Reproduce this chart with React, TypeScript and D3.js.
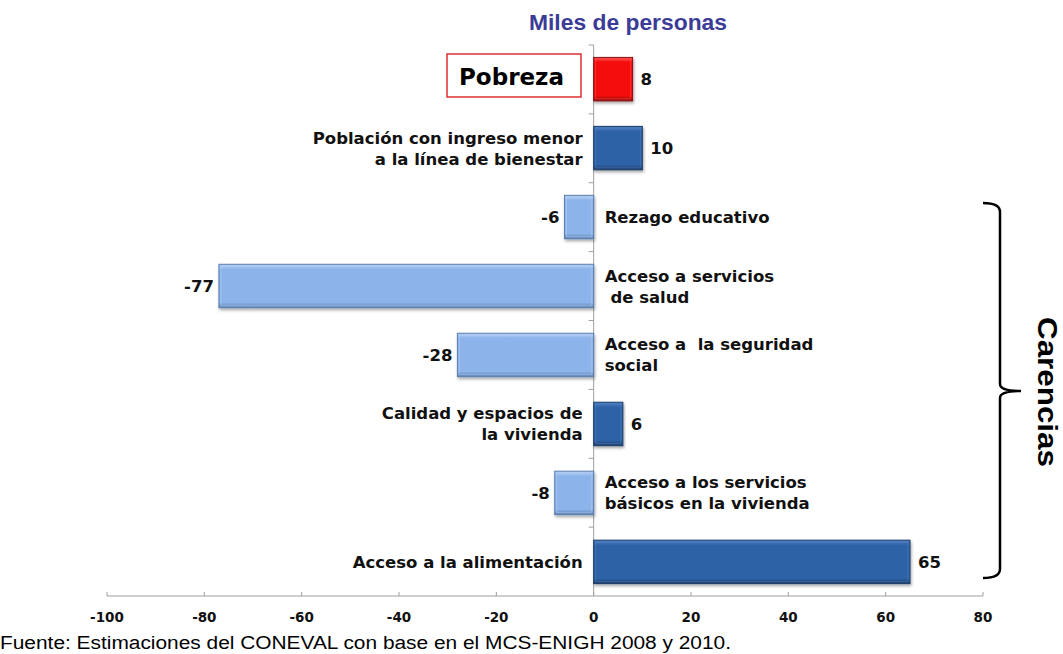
import React from "react";
import * as d3 from "d3";

const categories = [
  "Pobreza",
  "Población con ingreso menor a la línea de bienestar",
  "Rezago educativo",
  "Acceso a servicios de salud",
  "Acceso a la seguridad social",
  "Calidad y espacios de la vivienda",
  "Acceso a los servicios básicos en la vivienda",
  "Acceso a la alimentación",
];
const values = [8, 10, -6, -77, -28, 6, -8, 65];
const labelLines = [
  [],
  ["Población con ingreso menor", "a la línea de bienestar"],
  ["Rezago educativo"],
  ["Acceso a servicios", " de salud"],
  ["Acceso a  la seguridad", "social"],
  ["Calidad y espacios de", "la vivienda"],
  ["Acceso a los servicios", "básicos en la vivienda"],
  ["Acceso a la alimentación"],
];
const barKinds = ["red", "dark", "light", "light", "light", "dark", "light", "dark"];
const xTicks = [-100, -80, -60, -40, -20, 0, 20, 40, 60, 80];

const colors: Record<string, { base: string; edge: string; hi: string }> = {
  red: { base: "#f50a0a", edge: "#8a1010", hi: "#ff5050" },
  dark: { base: "#2f62a6", edge: "#1d3c66", hi: "#4f80c4" },
  light: { base: "#8cb4ea", edge: "#5b7fae", hi: "#b5d0f4" },
};

export default function App() {
  const W = 1063, H = 654;
  const x = d3.scaleLinear().domain([-100, 80]).range([107, 983]);
  const y = d3.scaleBand<string>().domain(categories).range([45, 596]).paddingInner(0.37).paddingOuter(0.18);
  const x0 = x(0);
  const font = "'DejaVu Sans', Verdana, sans-serif";
  const arial = "Arial, 'Liberation Sans', sans-serif";
  const bw = y.bandwidth();
  const fs = 16.5;

  return (
    <svg width={W} height={H} style={{ position: "absolute", left: 0, top: 0, background: "#fff" }}>
      <defs>
        {Object.keys(colors).map((k) => (
          <linearGradient key={k} id={"g-" + k} x1="0" y1="0" x2="0" y2="1">
            <stop offset="0" stopColor={colors[k].hi} />
            <stop offset="0.12" stopColor={colors[k].base} />
            <stop offset="0.88" stopColor={colors[k].base} />
            <stop offset="1" stopColor={colors[k].edge} />
          </linearGradient>
        ))}
        <filter id="sh" x="-10%" y="-20%" width="120%" height="150%">
          <feDropShadow dx="1" dy="2" stdDeviation="1.5" floodColor="#000" floodOpacity="0.35" />
        </filter>
      </defs>

      <text x={529} y={30} textLength={198} lengthAdjust="spacingAndGlyphs" fontFamily={arial} fontWeight="bold" fontSize={22} fill="#3b3b98">
        Miles de personas
      </text>

      {/* vertical axis */}
      <line x1={x0} x2={x0} y1={45} y2={596} stroke="#a0a0a0" strokeWidth={1} />
      {categories.map((c, i) => (
        <line key={"vt" + i} x1={x0 - 5} x2={x0} y1={45 + i * (551 / 8)} y2={45 + i * (551 / 8)} stroke="#a0a0a0" />
      ))}

      {/* x axis */}
      <line x1={x(-100)} x2={x(80)} y1={596} y2={596} stroke="#a0a0a0" strokeWidth={1.2} />
      {xTicks.map((t) => (
        <g key={t}>
          <line x1={x(t)} x2={x(t)} y1={592} y2={596} stroke="#a0a0a0" />
          <text x={x(t)} y={622} textAnchor="middle" fontFamily={font} fontWeight="bold" fontSize={13.5} fill="#111">
            {t}
          </text>
        </g>
      ))}

      {/* bars */}
      {categories.map((c, i) => {
        const v = values[i];
        const k = barKinds[i];
        const yy = y(c)!;
        const bx = Math.min(x(v), x0);
        const w = Math.abs(x(v) - x0);
        return (
          <g key={c}>
            <rect x={bx} y={yy} width={w} height={bw} fill={`url(#g-${k})`} stroke={colors[k].edge} strokeWidth={1} filter="url(#sh)" />
            <rect x={bx + 2} y={yy + 2} width={Math.max(0, w - 4)} height={bw - 4} fill="none" stroke={colors[k].hi} strokeOpacity={0.5} strokeWidth={1} />
          </g>
        );
      })}

      {/* value labels */}
      {categories.map((c, i) => {
        const v = values[i];
        const cy = y(c)! + bw / 2;
        const pos = v >= 0;
        return (
          <text key={"v" + i} x={pos ? x(v) + 8 : x(v) - 5} y={cy + 6} textAnchor={pos ? "start" : "end"} fontFamily={font} fontWeight="bold" fontSize={fs} fill="#111">
            {v}
          </text>
        );
      })}

      {/* category labels */}
      {categories.map((c, i) => {
        const v = values[i];
        const lines = labelLines[i];
        if (!lines.length) return null;
        const cy = y(c)! + bw / 2;
        const pos = v >= 0;
        const lh = 21;
        const lx = pos ? x0 - 11 : x0 + 11;
        const startY = cy + 6 - ((lines.length - 1) * lh) / 2;
        return (
          <text key={"l" + i} x={lx} textAnchor={pos ? "end" : "start"} fontFamily={font} fontWeight="bold" fontSize={fs} fill="#111" style={{ whiteSpace: "pre" }}>
            {lines.map((ln, j) => (
              <tspan key={j} x={lx} y={startY + j * lh}>
                {ln}
              </tspan>
            ))}
          </text>
        );
      })}

      {/* Pobreza box */}
      <rect x={447} y={54} width={134} height={43} fill="#fff" stroke="#e03030" strokeWidth={1.5} />
      <text x={459} y={85} textLength={105} lengthAdjust="spacingAndGlyphs" fontFamily={font} fontWeight="bold" fontSize={23} fill="#000">
        Pobreza
      </text>

      {/* brace */}
      <path d={`M983,203 Q1000,203 1000,212 L1000,384 Q1000,391 1021,391 Q1000,391 1000,398 L1000,569 Q1000,578 983,578`} fill="none" stroke="#000" strokeWidth={2.5} />
      <text transform="translate(1038,317) rotate(90)" textLength={150} lengthAdjust="spacingAndGlyphs" fontFamily={arial} fontWeight="bold" fontSize={27} fill="#000">
        Carencias
      </text>

      <text x={0} y={649} textLength={731} lengthAdjust="spacingAndGlyphs" fontFamily={arial} fontSize={18} fill="#000">
        Fuente: Estimaciones del CONEVAL con base en el MCS-ENIGH 2008 y 2010.
      </text>
    </svg>
  );
}
